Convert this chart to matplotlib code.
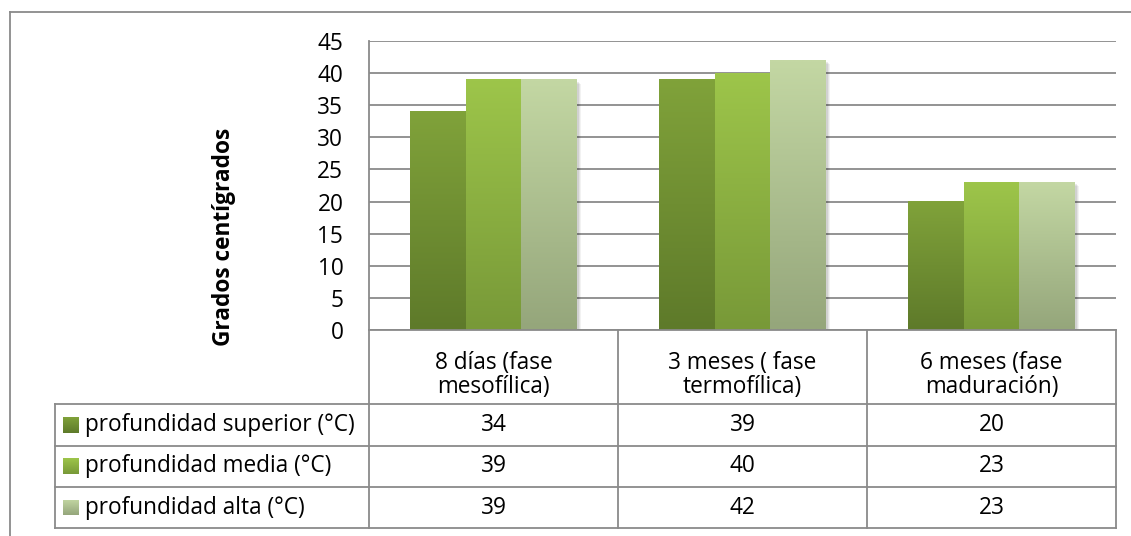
import matplotlib
matplotlib.use("Agg")
import matplotlib.pyplot as plt
import numpy as np
from matplotlib.lines import Line2D
from matplotlib.patches import Rectangle
from matplotlib.colors import to_rgb
import matplotlib.transforms as mtransforms

plt.rcParams['font.family'] = ['Open Sans', 'DejaVu Sans']

# data
categories = ["8 días (fase\nmesofílica)", "3 meses ( fase\ntermofílica)", "6 meses (fase\nmaduración)"]
series_names = ["profundidad superior (°C)", "profundidad media (°C)", "profundidad alta (°C)"]
superior = [34, 39, 20]
media = [39, 40, 23]
alta = [39, 42, 23]
series_values = [superior, media, alta]
y_ticks = [0, 5, 10, 15, 20, 25, 30, 35, 40, 45]

# gradient colours (top, bottom) for each series
grad_top = ["#80a23a", "#9dc54a", "#c3d7a3"]
grad_bot = ["#5e7a2a", "#789938", "#95a67b"]

W, H = 1131, 536
fs = 16.3
fig = plt.figure(figsize=(W / 100, H / 100), dpi=100)
fig.patch.set_facecolor("white")


def fx(x):
    return x / W


def fy(y):
    return 1 - y / H


def gradient(top, bot, n=64):
    t = np.linspace(0, 1, n)[:, None]
    c0 = np.array(to_rgb(top))
    c1 = np.array(to_rgb(bot))
    return (c0 * (1 - t) + c1 * t).reshape(n, 1, 3)


line_col = "#8a8a8a"

# plot area
left, right, top, bottom = 369, 1116, 41, 330
ax = fig.add_axes([fx(left), fy(bottom), fx(right - left), (bottom - top) / H])
ax.set_xlim(-0.5, 2.5)
ax.set_ylim(0, 45)
ax.set_yticks(y_ticks)
ax.set_xticks([])
ax.tick_params(axis="y", length=0, pad=18.5, labelsize=fs)
ax.yaxis.grid(True, color=line_col, lw=1.3)
ax.set_axisbelow(True)
for s in ["top", "right", "bottom"]:
    ax.spines[s].set_visible(False)
ax.spines["left"].set_color(line_col)
ax.spines["left"].set_linewidth(1.3)

x = np.arange(len(categories))
bw = 0.224
for i, vals in enumerate(series_values):
    bars = ax.bar(x + (i - 1) * bw, vals, bw, color="none", zorder=3)
    for b in bars:
        x0, h = b.get_x(), b.get_height()
        # soft shadow
        for k, a in [(4, 0.05), (3, 0.06), (2, 0.08)]:
            off = mtransforms.ScaledTranslation(k / 100, -k / 100, fig.dpi_scale_trans)
            ax.add_patch(Rectangle((x0, 0), bw, h, facecolor="black", alpha=a,
                                   lw=0, zorder=2, transform=ax.transData + off))
        ax.imshow(gradient(grad_top[i], grad_bot[i]), extent=[x0, x0 + bw, 0, h],
                  aspect="auto", zorder=4, interpolation="bilinear")
ax.set_xlim(-0.5, 2.5)
ax.set_ylim(0, 45)

fig.text(fx(224), fy(237), "Grados centígrados", rotation=90, ha="center", va="center",
         fontsize=fs, fontweight="bold")

# data table
cols = [369, 618, 867, 1116]
rows = [404, 445.5, 487, 528]
tab_left = 55


def hline(x0, x1, y):
    fig.add_artist(Line2D([fx(x0), fx(x1)], [fy(y), fy(y)], color=line_col, lw=1.3))


def vline(x, y0, y1):
    fig.add_artist(Line2D([fx(x), fx(x)], [fy(y0), fy(y1)], color=line_col, lw=1.3))


for c in cols:
    vline(c, bottom, rows[-1])
vline(tab_left, rows[0], rows[-1])
for r in rows:
    hline(tab_left, cols[-1], r)
hline(cols[0], cols[-1], bottom)

for j, cat in enumerate(categories):
    cx = (cols[j] + cols[j + 1]) / 2
    fig.text(fx(cx), fy(375), cat, ha="center", va="center", fontsize=fs, linespacing=1.05)

for i, name in enumerate(series_names):
    cy = (rows[i] + rows[i + 1]) / 2
    sq = fig.add_axes([fx(63), fy(cy + 8), 16 / W, 16 / H])
    sq.imshow(gradient(grad_top[i], grad_bot[i]), aspect="auto", interpolation="bilinear")
    sq.axis("off")
    fig.text(fx(85), fy(cy), name, ha="left", va="center", fontsize=fs)
    for j, v in enumerate(series_values[i]):
        cx = (cols[j] + cols[j + 1]) / 2
        fig.text(fx(cx), fy(cy), str(v), ha="center", va="center", fontsize=fs)

# outer frame
vline(10, 11.5, H)
hline(10, W, 11.5)

fig.savefig("out.png", dpi=100)
